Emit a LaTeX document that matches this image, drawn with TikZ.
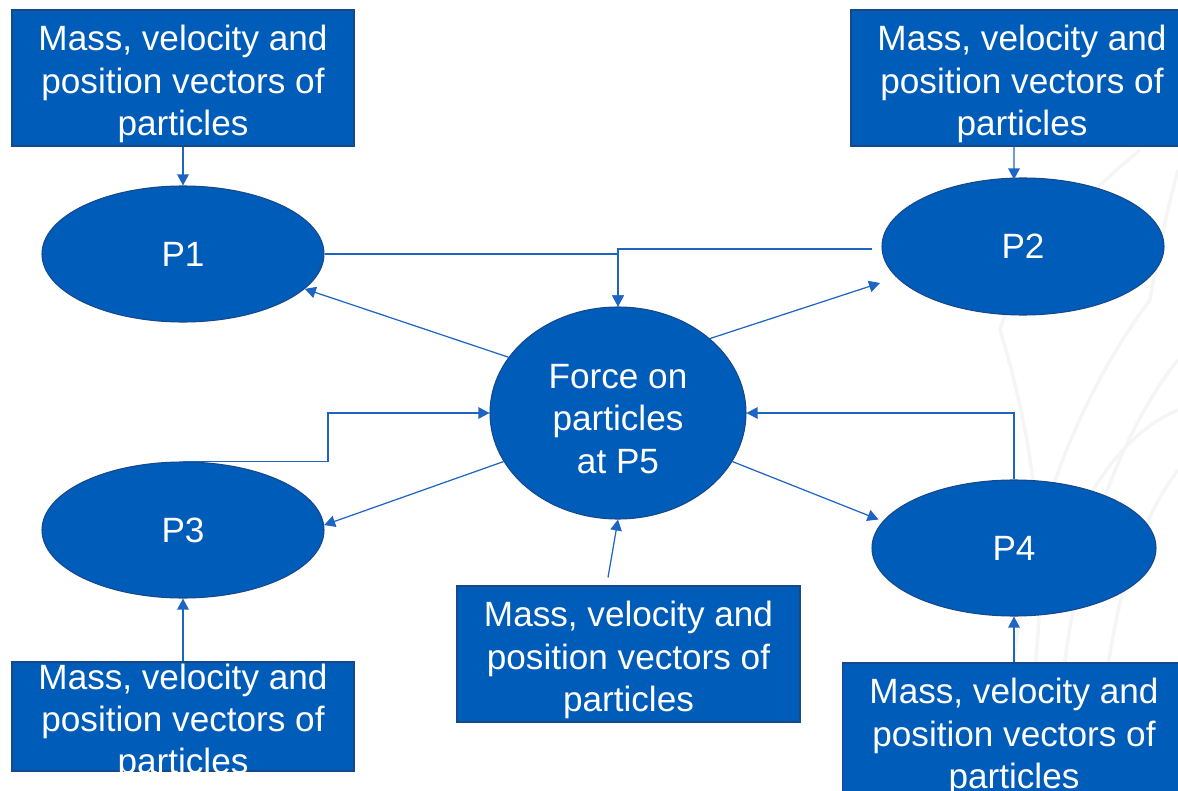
\documentclass[tikz,border=0pt]{standalone}
\usepackage{fontspec}
\setmainfont{Liberation Sans}
\usetikzlibrary{arrows.meta,shapes.geometric}
\definecolor{shapefill}{RGB}{0,92,185}
\definecolor{shapeedge}{RGB}{22,72,140}
\definecolor{linkcol}{RGB}{30,100,195}
\definecolor{wmark}{RGB}{245,245,245}
\tikzset{
  box/.style={rectangle,draw=shapeedge,fill=shapefill,line width=0.6pt,inner sep=0pt},
  oval/.style={ellipse,draw=shapeedge,fill=shapefill,line width=0.6pt,inner sep=0pt,
    text=white,font=\fontsize{20}{24}\selectfont},
  label/.style={text=white,align=center,inner sep=0pt,font=\fontsize{20}{24}\selectfont,yshift=-0.12cm},
  link/.style={draw=linkcol,line width=0.7pt,-{Triangle[length=0.22cm,width=0.23cm]}},
  leaf/.style={draw=wmark,line width=2pt}
}
\begin{document}
\begin{tikzpicture}[x=0.02cm,y=-0.02cm]
\useasboundingbox (0,0) rectangle (1178,791);
\clip (0,0) rectangle (1178,791);
% faint watermark
\draw[leaf] (1010,791) .. controls (1000,600) and (1060,420) .. (1150,300);
\draw[leaf] (1010,791) .. controls (1060,620) and (1040,460) .. (1000,330);
\draw[leaf] (1060,791) .. controls (1050,600) and (1120,430) .. (1178,360);
\draw[leaf] (1100,791) .. controls (1100,620) and (1140,520) .. (1178,470);
\draw[leaf] (1150,300) .. controls (1160,240) and (1170,200) .. (1178,170);
\draw[leaf] (1000,330) .. controls (1020,260) and (1080,200) .. (1140,150);
\draw[leaf] (1060,560) .. controls (1090,480) and (1130,430) .. (1178,410);
% ellipses
\node[oval,minimum width=282*0.02cm,minimum height=136*0.02cm] (P1) at (183,254) {P1};
\node[oval,minimum width=282*0.02cm,minimum height=137*0.02cm] (P2) at (1023,246.5) {P2};
\node[oval,minimum width=282*0.02cm,minimum height=136*0.02cm] (P3) at (183,530) {P3};
\node[oval,minimum width=284*0.02cm,minimum height=136*0.02cm] (P4) at (1014,548) {P4};
\node[oval,minimum width=256*0.02cm,minimum height=212*0.02cm] (P5) at (618,413) {};
\node[label] (P5t) at (P5.center) {Force on\\particles\\at P5};
% boxes
\node[box,minimum width=342*0.02cm,minimum height=136*0.02cm] (b1) at (183,78) {};
\node[label] (b1t) at (b1.center) {Mass, velocity and\\position vectors of\\particles};
\node[box,minimum width=342*0.02cm,minimum height=136*0.02cm] (b2) at (1022,78) {};
\node[label] (b2t) at (b2.center) {Mass, velocity and\\position vectors of\\particles};
\node[box,minimum width=342*0.02cm,minimum height=109*0.02cm] (b3) at (183,716.5) {};
\node[label] (b3t) at (b3.center) {Mass, velocity and\\position vectors of\\particles};
\node[box,minimum width=343*0.02cm,minimum height=136*0.02cm] (b4) at (1014,731) {};
\node[label] (b4t) at (b4.center) {Mass, velocity and\\position vectors of\\particles};
\node[box,minimum width=343*0.02cm,minimum height=136*0.02cm] (b5) at (628.5,654) {};
\node[label] (b5t) at (b5.center) {Mass, velocity and\\position vectors of\\particles};
% helper coordinates
\coordinate (e3) at (328,413);
\coordinate (t2) at (880,283);
\coordinate (t4) at (878.5,519.5);
% connectors
\draw[link] (b1.south) -- (P1.north);
\draw[link] ([xshift=-0.16cm]b2.south) -- ([xshift=-0.18cm,yshift=-0.04cm]P2.north);
\draw[link] (b3.north) -- (P3.south);
\draw[link] (b4.north) -- (P4.south);
\draw[link] ([xshift=-0.41cm,yshift=0.16cm]b5.north) -- (P5.south);
\draw[link] (P1.east) -| (P5.north);
\draw[link] ([xshift=-0.18cm,yshift=-0.05cm]P2.west) -| (P5.north);
\draw[link] (P3.north) -| (e3) -- (P5.west);
\draw[link] (P4.north) |- (P5.east);
\draw[link] (P5.153) -- (P1.344);
\draw[link] (P5.39.5) -- (t2);
\draw[link] (P5.203) -- (P3.2);
\draw[link] (P5.337) -- (t4);
\end{tikzpicture}
\end{document}
